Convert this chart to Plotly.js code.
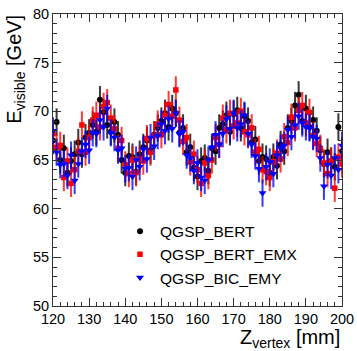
<!DOCTYPE html>
<html><head><meta charset="utf-8">
<script src="https://cdn.plot.ly/plotly-3.0.1.min.js"></script>
<style>html,body{margin:0;padding:0;background:#fff;overflow:hidden}</style>
</head><body>
<div id="chart" style="width:357px;height:351px"></div>
<script>
// Z_vertex positions (mm)
const zVertex = [120,121,122,123,124,125,126,127,128,129,130,131,132,133,134,135,136,137,138,139,
  140,141,142,143,144,145,146,147,148,149,150,151,152,153,154,155,156,157,158,159,
  160,161,162,163,164,165,166,167,168,169,170,171,172,173,174,175,176,177,178,179,
  180,181,182,183,184,185,186,187,188,189,190,191,192,193,194,195,196,197,198,199,200];

const qgspBert = [67.0,68.9,65.0,66.2,63.7,64.9,65.6,66.8,65.6,67.3,67.8,68.6,67.9,71.2,69.9,68.6,67.9,68.9,67.6,65.0,
  63.7,65.4,65.3,63.8,65.6,66.3,67.0,66.0,67.6,68.3,69.0,69.8,68.4,70.3,69.8,67.8,68.3,65.8,66.3,64.2,
  63.3,64.9,65.2,63.9,66.2,65.9,68.3,68.7,69.6,67.9,69.7,70.1,68.3,69.5,69.0,66.8,67.1,64.9,65.3,65.1,
  63.7,65.3,64.4,66.6,65.9,68.3,69.0,70.6,71.7,69.0,70.3,68.4,69.1,68.0,66.0,64.6,65.8,64.9,64.3,68.4,65.9];

const qgspBertEmx = [67.7,66.3,66.5,63.2,64.9,62.6,64.0,65.9,68.6,65.8,67.3,69.1,69.6,68.4,70.5,70.9,69.3,68.2,66.2,67.0,
  64.5,63.6,65.0,63.7,65.1,64.9,67.2,65.8,67.5,68.7,67.6,69.6,70.7,69.5,72.2,69.1,66.9,67.3,64.8,65.6,
  64.0,62.6,64.7,63.4,65.0,67.3,66.6,69.3,68.1,69.8,68.5,68.8,70.0,67.9,67.6,68.3,65.8,66.1,64.0,63.8,
  63.2,64.8,65.7,65.1,67.4,66.8,69.4,68.3,70.1,70.6,68.8,69.9,67.5,66.7,66.2,64.7,63.6,64.9,62.1,65.3,64.6];

const qgspBicEmy = [68.0,65.8,64.5,64.6,63.4,65.5,62.9,64.6,65.9,66.6,66.0,67.8,67.7,69.1,68.4,70.3,67.8,67.3,66.0,66.2,
  64.1,64.2,63.3,65.0,64.3,66.1,65.1,67.3,66.4,67.5,68.7,68.0,69.2,68.2,69.8,67.7,67.9,65.5,65.2,63.9,
  64.7,63.2,62.9,65.0,66.3,67.6,66.6,67.7,69.2,68.2,69.8,68.3,68.7,69.6,67.7,66.6,65.4,64.1,61.6,64.3,
  64.8,63.6,65.5,66.2,66.5,68.1,67.4,68.6,69.5,68.8,68.4,68.3,67.4,67.2,65.2,62.3,64.5,63.4,65.2,64.0,66.5];

const errBert = 1.4;
const errBertEmx = 1.4;
const errBicEmy = 1.4;

const seriesNames = ['QGSP_BERT','QGSP_BERT_EMX','QGSP_BIC_EMY'];
const xTickVals = [120,130,140,150,160,170,180,190,200];
const yTickVals = [50,55,60,65,70,75,80];

function mk(name, y, err, color, barColor, symbol, size) {
  return {
    type: 'scatter', mode: 'markers', name: name, x: zVertex, y: y,
    marker: {color: color, symbol: symbol, size: size, line: {width: 0}},
    error_y: {type: 'constant', value: err, color: barColor, thickness: 2, width: 0}
  };
}

const data = [
  mk(seriesNames[0], qgspBert, errBert, '#000000', 'rgba(0,0,0,0.78)', 'circle', 6),
  mk(seriesNames[1], qgspBertEmx, errBertEmx, '#ff0000', 'rgba(255,0,0,0.78)', 'square', 5.5),
  mk(seriesNames[2], qgspBicEmy, errBicEmy, '#0000ff', 'rgba(0,0,255,0.78)', 'triangle-down', 7)
];

const axisFont = {family: 'Liberation Sans, Arial, Helvetica, sans-serif', size: 14.5, color: '#000'};

const layout = {
  width: 357, height: 351,
  margin: {l: 53, r: 15, t: 14, b: 45, pad: 0},
  paper_bgcolor: '#fff', plot_bgcolor: '#fff',
  showlegend: true,
  legend: {
    x: 0.232, y: 0.313, xanchor: 'left', yanchor: 'top',
    bgcolor: 'rgba(0,0,0,0)', borderwidth: 0,
    font: {family: 'Liberation Sans, Arial, sans-serif', size: 15.5, color: '#000'},
    itemwidth: 30
  },
  xaxis: {
    range: [120, 200], tickvals: xTickVals, ticktext: xTickVals.map(String),
    ticks: 'inside', ticklen: 8, tickwidth: 1, tickcolor: '#333',
    showline: true, linecolor: '#333', linewidth: 1, mirror: 'allticks',
    showgrid: false, zeroline: false, tickfont: axisFont,
    minor: {dtick: 2, ticklen: 4, tickcolor: '#333', ticks: 'inside', showgrid: false}
  },
  yaxis: {
    range: [50, 80], tickvals: yTickVals, ticktext: yTickVals.map(String),
    ticks: 'inside', ticklen: 8, tickwidth: 1, tickcolor: '#333',
    showline: true, linecolor: '#333', linewidth: 1, mirror: 'allticks',
    showgrid: false, zeroline: false, tickfont: axisFont,
    minor: {dtick: 1, ticklen: 4, tickcolor: '#333', ticks: 'inside', showgrid: false}
  },
  annotations: [
    {text: 'E<sub>visible</sub> [GeV]', xref: 'paper', yref: 'paper',
     x: -0.131, y: 1.003, xanchor: 'center', yanchor: 'top', textangle: -90, showarrow: false,
     font: {family: 'Liberation Sans, Arial, sans-serif', size: 20, color: '#000'}},
    {text: 'Z<sub>vertex</sub> [mm]', xref: 'paper', yref: 'paper',
     x: 1.0, y: -0.11, xanchor: 'right', yanchor: 'middle', showarrow: false,
     font: {family: 'Liberation Sans, Arial, sans-serif', size: 20, color: '#000'}}
  ]
};

Plotly.newPlot('chart', data, layout, {displayModeBar: false, staticPlot: true});
</script>
</body></html>
